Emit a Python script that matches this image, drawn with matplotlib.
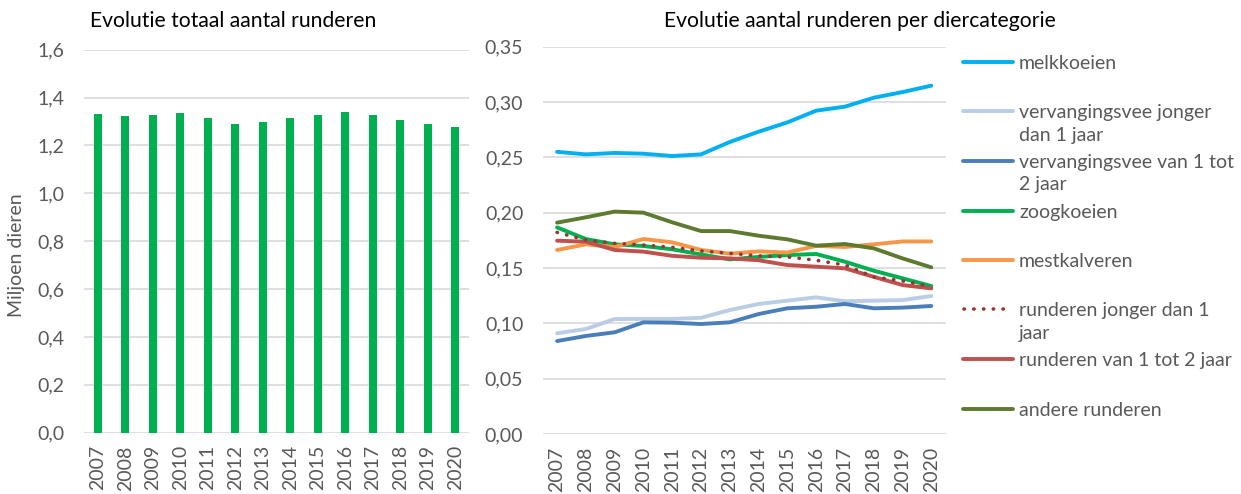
import matplotlib
matplotlib.use("Agg")
import matplotlib.pyplot as plt
from matplotlib.lines import Line2D

plt.rcParams['font.family'] = ['Lato', 'DejaVu Sans']

years = [str(y) for y in range(2007, 2021)]
totaal = [1.330, 1.324, 1.327, 1.337, 1.315, 1.290, 1.298, 1.315, 1.328, 1.341, 1.327, 1.308, 1.291, 1.278]

melkkoeien = [0.255, 0.2527, 0.254, 0.2533, 0.2512, 0.2527, 0.2639, 0.2732, 0.2816, 0.2922, 0.2958, 0.3039, 0.309, 0.3148]
verv_jong = [0.091, 0.0949, 0.1039, 0.104, 0.104, 0.105, 0.112, 0.1175, 0.1205, 0.1235, 0.120, 0.1205, 0.121, 0.1247]
verv_1_2 = [0.084, 0.0886, 0.0919, 0.1009, 0.1006, 0.0994, 0.1009, 0.1084, 0.1136, 0.115, 0.1175, 0.1136, 0.1142, 0.1157]
zoogkoeien = [0.1867, 0.1762, 0.1714, 0.1699, 0.1669, 0.1623, 0.1578, 0.160, 0.1617, 0.1627, 0.1557, 0.1476, 0.1407, 0.1337]
mestkalveren = [0.1663, 0.1714, 0.169, 0.1762, 0.1732, 0.1663, 0.163, 0.165, 0.164, 0.170, 0.169, 0.1714, 0.174, 0.174]
rund_jong = [0.1822, 0.1753, 0.1723, 0.1708, 0.1687, 0.1654, 0.1633, 0.161, 0.160, 0.157, 0.1527, 0.142, 0.1383, 0.1331]
rund_1_2 = [0.1747, 0.1738, 0.1663, 0.1648, 0.161, 0.1593, 0.1587, 0.157, 0.1527, 0.1512, 0.1497, 0.142, 0.1346, 0.1316]
andere = [0.191, 0.1958, 0.201, 0.200, 0.1913, 0.1834, 0.1834, 0.1792, 0.1759, 0.1702, 0.1717, 0.1678, 0.1587, 0.1506]

series_labels = ["melkkoeien", "vervangingsvee jonger\ndan 1 jaar", "vervangingsvee van 1 tot\n2 jaar",
                 "zoogkoeien", "mestkalveren", "runderen jonger dan 1\njaar", "runderen van 1 tot 2 jaar",
                 "andere runderen"]
series_values = [melkkoeien, verv_jong, verv_1_2, zoogkoeien, mestkalveren, rund_jong, rund_1_2, andere]
series_colors = ["#00B0F0", "#B9CDE5", "#4A7EBB", "#00B050", "#F79646", "#953735", "#C0504D", "#5E7A31"]
series_styles = ["-", "-", "-", "-", "-", ":", "-", "-"]

left_ticks = [0.0, 0.2, 0.4, 0.6, 0.8, 1.0, 1.2, 1.4, 1.6]
right_ticks = [0.00, 0.05, 0.10, 0.15, 0.20, 0.25, 0.30, 0.35]

W, H = 1241, 494
fig = plt.figure(figsize=(W / 100, H / 100), dpi=100)
tick_color = "#595959"
grid_color = "#D9D9D9"
fs = 14
tfs = 15.2

def style(ax):
    for s in ax.spines.values():
        s.set_visible(False)
    ax.tick_params(length=0, colors=tick_color, labelsize=fs)
    ax.grid(axis="y", color=grid_color, linewidth=1.2)
    ax.set_axisbelow(True)
    ax.set_xlim(-0.5, len(years) - 0.5)
    ax.set_xticks(range(len(years)))
    ax.set_xticklabels(years, rotation=90)

# Left chart
axl = fig.add_axes([84 / W, 1 - 432.7 / H, (469 - 84) / W, (432.7 - 49.7) / H])
style(axl)
axl.bar(range(len(years)), totaal, width=0.3, color="#00B050", zorder=3)
axl.set_ylim(0, 1.6)
axl.set_yticks(left_ticks)
axl.set_yticklabels([f"{t:.1f}".replace(".", ",") for t in left_ticks])
axl.tick_params(axis="x", pad=9)
axl.tick_params(axis="y", pad=14)
fig.text(17 / W, 1 - 255 / H, "Miljoen dieren", rotation=90, ha="center", va="center",
         color=tick_color, fontsize=fs)
fig.text(233 / W, 1 - 21 / H, "Evolutie totaal aantal runderen", ha="center", va="center",
         color="black", fontsize=tfs)

# Right chart
axr = fig.add_axes([542.7 / W, 1 - 434 / H, (945.7 - 542.7) / W, (434 - 46.7) / H])
style(axr)
for vals, col, ls in zip(series_values, series_colors, series_styles):
    if ls == ":":
        axr.plot(range(len(years)), vals, color=col, linewidth=2.6, linestyle=(0, (0.1, 2.6)),
                 dash_capstyle="round", zorder=4)
    else:
        axr.plot(range(len(years)), vals, color=col, linewidth=2.8, solid_capstyle="round", zorder=3)
axr.set_ylim(0, 0.35)
axr.set_yticks(right_ticks)
axr.set_yticklabels([f"{t:.2f}".replace(".", ",") for t in right_ticks])
axr.tick_params(axis="x", pad=9)
axr.tick_params(axis="y", pad=14)
fig.text(860 / W, 1 - 21 / H, "Evolutie aantal runderen per diercategorie", ha="center", va="center",
         color="black", fontsize=tfs)

# Legend (manual, to keep handles on the first text line)
leg_y = [62, 111, 160.7, 211, 260, 309, 359, 409]
for lab, col, ls, y in zip(series_labels, series_colors, series_styles, leg_y):
    yf = 1 - y / H
    if ls == ":":
        fig.add_artist(Line2D([964 / W, 1011 / W], [yf, yf], color=col, linewidth=2.6,
                              linestyle=(0, (0.1, 2.6)), dash_capstyle="round"))
    else:
        fig.add_artist(Line2D([963 / W, 1013 / W], [yf, yf], color=col, linewidth=2.8,
                              solid_capstyle="round"))
    fig.text(1019 / W, yf + 0.0136, lab, ha="left", va="top", color=tick_color, fontsize=fs,
             linespacing=1.38)

fig.savefig("out.png", dpi=100)
